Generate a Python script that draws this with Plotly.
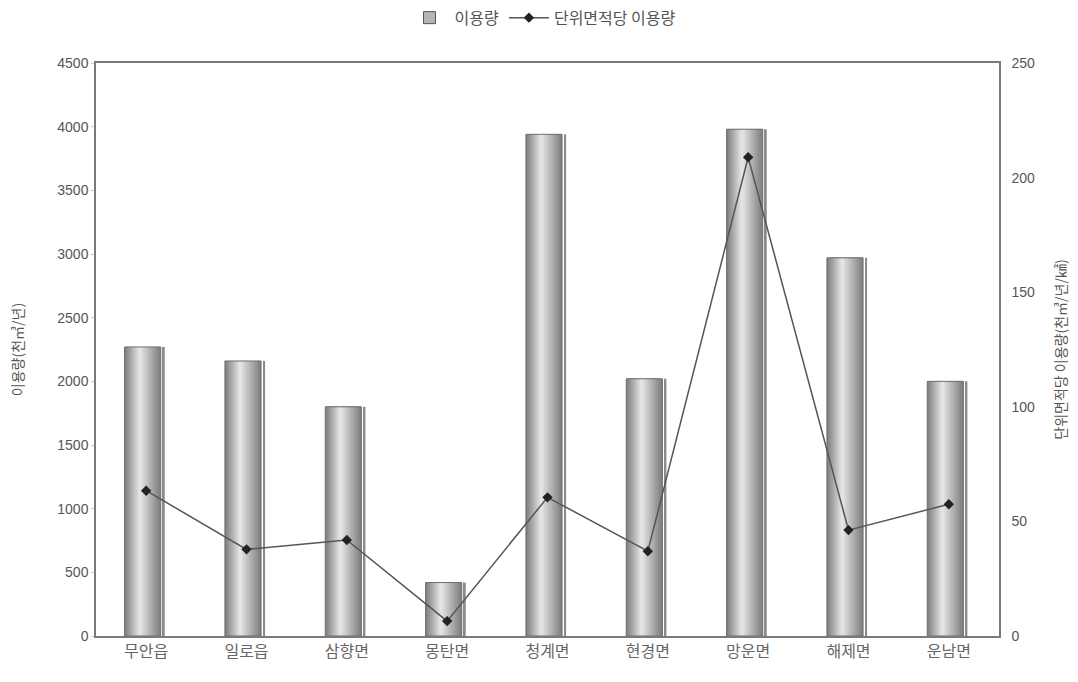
import plotly.graph_objects as go

categories = ["무안읍", "일로읍", "삼향면", "몽탄면", "청계면", "현경면", "망운면", "해제면", "운남면"]
usage = [2270, 2160, 1800, 420, 3940, 2020, 3980, 2970, 2000]
usage_per_area = [63.4, 37.8, 41.9, 6.5, 60.5, 37.0, 208.9, 46.2, 57.5]

left_ticks = [0, 500, 1000, 1500, 2000, 2500, 3000, 3500, 4000, 4500]
right_ticks = [0, 50, 100, 150, 200, 250]

FONT = "Liberation Sans, Arial, sans-serif"
KFONT = "Noto Sans CJK KR, sans-serif"
TXT = "#555555"

fig = go.Figure()

# cylinder-like shading: stacked overlays of narrowing strips
body_left = -0.215
body_w = 0.36
n = 14
shades = []
for k in range(n):
    t = k / (n - 1)
    g = int(128 + (228 - 128) * t)
    shades.append(f"rgb({g},{g},{g})")
hl = 0.42  # highlight position as fraction of body
for k in range(n):
    t = k / n
    lw = body_w * hl * (1 - t)
    rw = body_w * (1 - hl) * (1 - t)
    centre = body_left + body_w * hl
    fig.add_trace(go.Bar(
        x=categories, y=usage, width=lw + rw, offset=centre - lw,
        marker=dict(color=shades[k], line=dict(width=0)),
        showlegend=False, hoverinfo="skip"))
# outline of body
fig.add_trace(go.Bar(
    x=categories, y=usage, width=body_w, offset=body_left,
    marker=dict(color="rgba(0,0,0,0)", line=dict(color="#6e6e6e", width=1)),
    name="이용량", showlegend=False, hoverinfo="skip"))
# white gap + dark edge line on right
fig.add_trace(go.Bar(
    x=categories, y=usage, width=0.018, offset=body_left + body_w + 0.022,
    marker=dict(color="#8a8a8a", line=dict(width=0)),
    showlegend=False, hoverinfo="skip"))

# legend entry for the bars
fig.add_trace(go.Bar(
    x=[None], y=[None], name="이용량",
    marker=dict(color="#b5b5b5", line=dict(color="#555555", width=1)),
    showlegend=True))

fig.add_trace(go.Scatter(
    x=categories, y=usage_per_area, yaxis="y2", name="단위면적당 이용량",
    mode="lines+markers",
    line=dict(color="#555555", width=1.5),
    marker=dict(symbol="diamond", size=8, color="#222222"),
))

fig.update_layout(
    width=1078, height=682,
    barmode="overlay",
    paper_bgcolor="white", plot_bgcolor="white",
    margin=dict(l=96, r=79, t=63, b=46, autoexpand=False),
    font=dict(family=KFONT, color=TXT, size=14),
    legend=dict(orientation="h", x=0.495, xanchor="center", y=1.079, yanchor="middle",
                font=dict(family=KFONT, size=16, color=TXT),
                bgcolor="rgba(0,0,0,0)", borderwidth=0,
                itemwidth=40, tracegroupgap=0),
    showlegend=True,
    xaxis=dict(
        tickfont=dict(family=KFONT, size=16, color="#666666"),
        showline=True, linecolor="#7a7a7a", linewidth=1.5, mirror=True,
        ticks="", showgrid=False, zeroline=False,
    ),
    yaxis=dict(
        range=[0, 4500], tickvals=left_ticks,
        tickfont=dict(family=FONT, size=14, color=TXT),
        title=dict(text="이용량(천㎥/년)", font=dict(family=KFONT, size=14, color=TXT), standoff=30),
        showline=True, linecolor="#7a7a7a", linewidth=1.5,
        ticks="outside", ticklen=3, tickcolor="#cccccc",
        showgrid=False, zeroline=False,
    ),
    yaxis2=dict(
        range=[0, 250], tickvals=right_ticks, overlaying="y", side="right",
        tickfont=dict(family=FONT, size=14, color=TXT),
        title=dict(text="단위면적당 이용량(천㎥/년/㎢)", font=dict(family=KFONT, size=14, color=TXT), standoff=22),
        showline=True, linecolor="#7a7a7a", linewidth=1.5,
        ticks="outside", ticklen=8, tickcolor="#ffffff",
        showgrid=False, zeroline=False,
    ),
)

fig.write_html("out.html")
